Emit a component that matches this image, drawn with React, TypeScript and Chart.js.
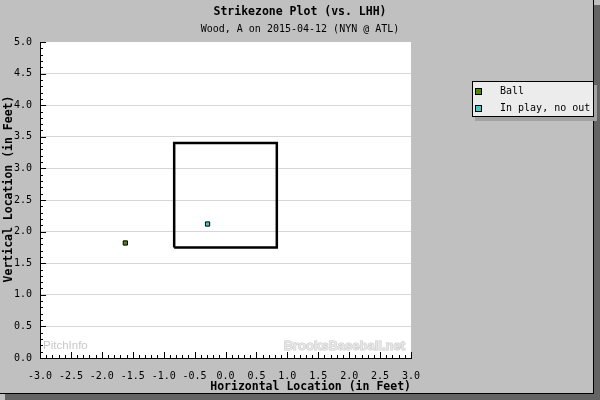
import { useEffect, useRef } from 'react';
import { Chart, registerables } from 'chart.js';

Chart.register(...registerables);

const TITLE = 'Strikezone Plot (vs. LHH)';
const SUBTITLE = 'Wood, A on 2015-04-12 (NYN @ ATL)';
const X_TITLE = 'Horizontal Location (in Feet)';
const Y_TITLE = 'Vertical Location (in Feet)';
const WATERMARK_LEFT = 'PitchInfo';
const WATERMARK_RIGHT = 'BrooksBaseball.net';

const SERIES_LABELS = ['Ball', 'In play, no out'];
const SERIES_COLORS = ['#4a8a00', '#44c8c8'];

const BALL_X = [-1.62];
const BALL_Y = [1.82];
const INPLAY_X = [-0.29];
const INPLAY_Y = [2.12];

const ZONE_X = [-0.83, 0.83, 0.83, -0.83, -0.83];
const ZONE_Y = [1.75, 1.75, 3.4, 3.4, 1.75];

const X_MIN = -3;
const X_MAX = 3;
const Y_MIN = 0;
const Y_MAX = 5;
const MAJOR_STEP = 0.5;
const MINOR_STEP = 0.1;

const MONO = '"DejaVu Sans Mono", monospace';

const toPoints = (xs: number[], ys: number[]) => xs.map((x, i) => ({ x, y: ys[i] }));

const framePlugin = {
  id: 'frame',
  beforeDraw(chart: any) {
    const { ctx, chartArea: a, width, height } = chart;
    ctx.save();
    ctx.fillStyle = '#c0c0c0';
    ctx.fillRect(0, 0, width, height);
    ctx.fillStyle = '#646464';
    ctx.fillRect(594, 5, 6, 395);
    ctx.fillRect(5, 394, 595, 6);
    ctx.fillStyle = '#000';
    ctx.fillRect(593, 0, 1, 394);
    ctx.fillRect(0, 393, 594, 1);
    ctx.fillStyle = '#fff';
    ctx.fillRect(a.left, a.top, a.right - a.left, a.bottom - a.top);

    // watermarks
    ctx.textBaseline = 'middle';
    ctx.textAlign = 'left';
    ctx.font = '11.5px "Liberation Sans", Arial, sans-serif';
    ctx.fillStyle = '#c8c8c8';
    ctx.fillText(WATERMARK_LEFT, a.left + 3, 346);
    ctx.textAlign = 'right';
    ctx.font = 'bold 13px "Liberation Sans", Arial, sans-serif';
    ctx.fillStyle = '#e6e6e6';
    ctx.strokeStyle = '#c8c8c8';
    ctx.lineWidth = 1;
    ctx.strokeText(WATERMARK_RIGHT, a.right - 6, 346);
    ctx.fillText(WATERMARK_RIGHT, a.right - 6, 346);
    ctx.restore();
  },
  afterDraw(chart: any) {
    const { ctx, chartArea: a, scales } = chart;
    const xs = scales.x;
    const ys = scales.y;
    ctx.save();
    // minor / major inward ticks
    ctx.strokeStyle = '#000';
    ctx.lineWidth = 1;
    ctx.beginPath();
    const ratio = Math.round(MAJOR_STEP / MINOR_STEP);
    const nY = Math.round((Y_MAX - Y_MIN) / MINOR_STEP);
    for (let i = 0; i <= nY; i++) {
      const v = Y_MIN + i * MINOR_STEP;
      const major = i % ratio === 0;
      const y = Math.round(ys.getPixelForValue(v)) + 0.5;
      ctx.moveTo(a.left, y);
      ctx.lineTo(a.left + (major ? 6 : 3), y);
    }
    const nX = Math.round((X_MAX - X_MIN) / MINOR_STEP);
    for (let i = 0; i <= nX; i++) {
      const v = X_MIN + i * MINOR_STEP;
      const major = i % ratio === 0;
      const x = Math.round(xs.getPixelForValue(v)) + 0.5;
      ctx.moveTo(x, a.bottom);
      ctx.lineTo(x, a.bottom - (major ? 6 : 3));
    }
    ctx.stroke();

    // titles
    ctx.fillStyle = '#000';
    ctx.textAlign = 'center';
    ctx.textBaseline = 'middle';
    ctx.font = 'bold 11.5px ' + MONO;
    ctx.fillText(TITLE, 300, 12);
    ctx.font = '10px ' + MONO;
    ctx.fillText(SUBTITLE, 300, 29);

    // y axis title
    ctx.save();
    ctx.translate(9.5, 189);
    ctx.rotate(-Math.PI / 2);
    ctx.font = 'bold 11.5px ' + MONO;
    ctx.fillText(Y_TITLE, 0, 0);
    ctx.restore();

    // legend
    const lx = 472, ly = 81, lw = 122, lh = 36;
    ctx.fillStyle = '#a2a2a2';
    ctx.fillRect(lx + 3, ly + 4, lw, lh);
    ctx.fillStyle = '#ececec';
    ctx.fillRect(lx, ly, lw, lh);
    ctx.strokeStyle = '#000';
    ctx.strokeRect(lx + 0.5, ly + 0.5, lw - 1, lh - 1);
    ctx.textAlign = 'left';
    ctx.font = '10px ' + MONO;
    chart.data.datasets.slice(0, 2).forEach((ds: any, i: number) => {
      const cy = 91 + i * 17;
      ctx.fillStyle = ds.backgroundColor;
      ctx.fillRect(475, cy - 3, 7, 7);
      ctx.strokeStyle = '#000';
      ctx.strokeRect(475.5, cy - 2.5, 6, 6);
      ctx.fillStyle = '#000';
      ctx.fillText(ds.label, 500, cy + 0.5);
    });
    ctx.restore();
  },
};

export default function App() {
  const ref = useRef<HTMLCanvasElement | null>(null);
  useEffect(() => {
    document.body.style.margin = '0';
    const canvas = ref.current;
    if (!canvas) return;
    const chart = new Chart(canvas, {
      type: 'scatter',
      data: {
        datasets: [
          {
            label: SERIES_LABELS[0],
            data: toPoints(BALL_X, BALL_Y),
            backgroundColor: SERIES_COLORS[0],
            borderColor: '#000',
            borderWidth: 1,
            pointStyle: 'rect',
            pointRadius: 3,
          },
          {
            label: SERIES_LABELS[1],
            data: toPoints(INPLAY_X, INPLAY_Y),
            backgroundColor: SERIES_COLORS[1],
            borderColor: '#000',
            borderWidth: 1,
            pointStyle: 'rect',
            pointRadius: 3,
          },
          {
            label: 'Strike zone',
            data: toPoints(ZONE_X, ZONE_Y),
            showLine: true,
            borderColor: '#000',
            backgroundColor: 'transparent',
            borderWidth: 2.5,
            pointRadius: 0,
            fill: false,
          } as any,
        ],
      },
      options: {
        responsive: false,
        animation: false,
        events: [],
        layout: { padding: { top: 42, right: 189, left: 0, bottom: 0 } },
        plugins: {
          legend: { display: false },
          tooltip: { enabled: false },
          title: { display: false },
        },
        scales: {
          x: {
            type: 'linear',
            position: 'bottom',
            min: X_MIN,
            max: X_MAX,
            afterFit: (s: any) => {
              s.height = 42;
            },
            ticks: {
              stepSize: MAJOR_STEP,
              autoSkip: false,
              maxRotation: 0,
              padding: 12,
              color: '#000',
              font: { family: MONO, size: 10 },
              callback: (v: any) => Number(v).toFixed(1),
            },
            grid: { display: false, drawTicks: false },
            border: { display: true, color: '#000', width: 1 },
            title: {
              display: true,
              text: X_TITLE,
              align: 'end',
              color: '#000',
              font: { family: MONO, size: 11.5, weight: 'bold' },
              padding: { top: 0, bottom: 6 },
            },
          },
          y: {
            type: 'linear',
            position: 'left',
            min: Y_MIN,
            max: Y_MAX,
            afterFit: (s: any) => {
              s.width = 40;
            },
            ticks: {
              stepSize: MAJOR_STEP,
              autoSkip: false,
              padding: 8,
              color: '#000',
              font: { family: MONO, size: 10 },
              callback: (v: any) => Number(v).toFixed(1),
            },
            grid: {
              drawTicks: false,
              color: (c: any) => (c.tick && c.tick.value === Y_MAX ? 'rgba(0,0,0,0)' : '#d6d6d6'),
              lineWidth: 1,
            },
            border: { display: true, color: '#000', width: 1 },
          },
        },
      },
      plugins: [framePlugin],
    } as any);
    return () => chart.destroy();
  }, []);
  return (
    <div style={{ position: 'absolute', left: 0, top: 0, width: 600, height: 400 }}>
      <canvas ref={ref} width={600} height={400} style={{ display: 'block' }} />
    </div>
  );
}
